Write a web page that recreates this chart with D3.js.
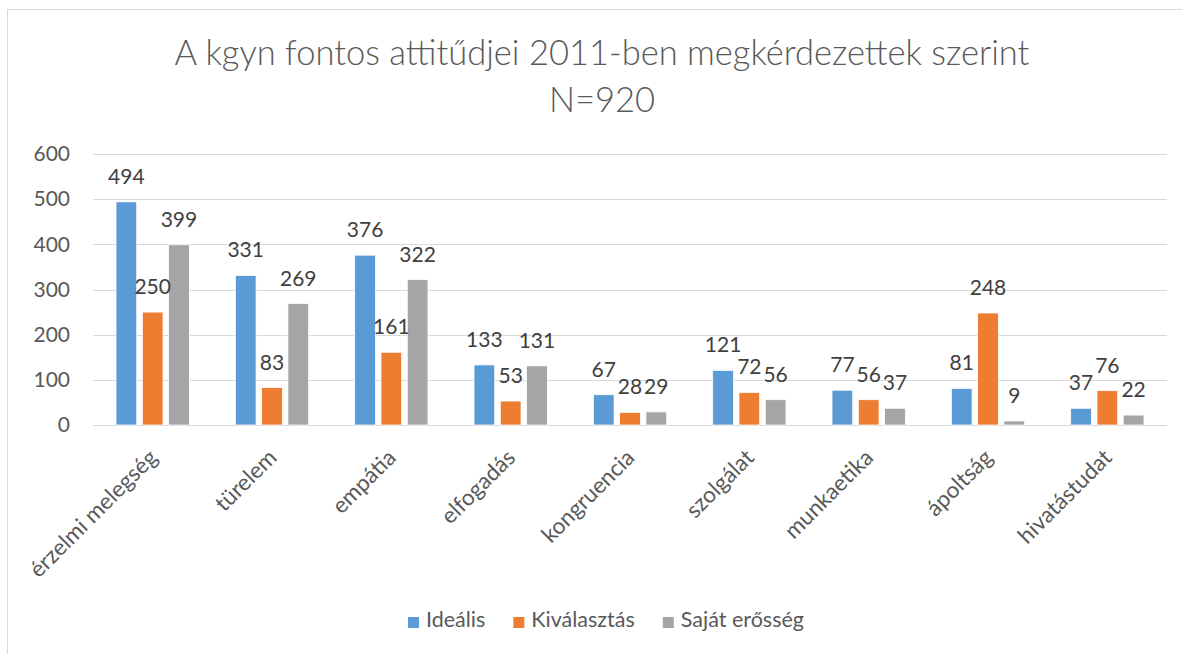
<!DOCTYPE html>
<html>
<head>
<meta charset="utf-8">
<script src="https://cdn.jsdelivr.net/npm/d3@7"></script>
<style>
  html, body { margin: 0; padding: 0; background: #fff; }
  svg { display: block; font-family: Lato, "Open Sans", sans-serif; }
</style>
</head>
<body>
<div id="chart"></div>
<script>
// adatok
const categories = ["érzelmi melegség", "türelem", "empátia", "elfogadás", "kongruencia",
  "szolgálat", "munkaetika", "ápoltság", "hivatástudat"];
const seriesNames = ["Ideális", "Kiválasztás", "Saját erősség"];
const idealis = [494, 331, 376, 133, 67, 121, 77, 81, 37];
const kivalasztas = [250, 83, 161, 53, 28, 72, 56, 248, 76];
const sajatErosseg = [399, 269, 322, 131, 29, 56, 37, 9, 22];
const yTicks = [0, 100, 200, 300, 400, 500, 600];
const titleLines = ["A kgyn fontos attitűdjei 2011-ben megkérdezettek szerint", "N=920"];

const colors = ["#5B9BD5", "#ED7D31", "#A5A5A5"];
const seriesValues = [idealis, kivalasztas, sajatErosseg];

const width = 1182, height = 654;
const plot = { left: 93, right: 1167, top: 154, bottom: 425 };

const svg = d3.select("#chart").append("svg")
  .attr("width", width)
  .attr("height", height);

// keret
svg.append("rect")
  .attr("x", 7.5).attr("y", 9.5)
  .attr("width", width + 20).attr("height", height + 20)
  .attr("fill", "#fff")
  .attr("stroke", "#D9D9D9")
  .attr("stroke-width", 1);

// cím
const title = svg.append("g");
title.append("text")
  .attr("x", 602).attr("y", 65)
  .attr("text-anchor", "middle")
  .attr("font-size", 34.5).attr("font-weight", 300)
  .attr("fill", "#595959")
  .text(titleLines[0]);
title.append("text")
  .attr("x", 602).attr("y", 112)
  .attr("text-anchor", "middle")
  .attr("font-size", 34.5).attr("font-weight", 300)
  .attr("fill", "#595959")
  .text(titleLines[1]);

// skálák
const x0 = d3.scaleBand()
  .domain(categories)
  .range([plot.left, plot.right])
  .paddingInner(0.386)
  .paddingOuter(0.193);

const x1 = d3.scaleBand()
  .domain(seriesNames)
  .range([0, x0.bandwidth()])
  .paddingInner(0.213);

const y = d3.scaleLinear()
  .domain([0, 600])
  .range([plot.bottom, plot.top]);

// rácsvonalak
svg.append("g")
  .selectAll("line")
  .data(yTicks)
  .enter().append("line")
  .attr("x1", plot.left).attr("x2", plot.right)
  .attr("y1", d => Math.round(y(d)) + 0.5)
  .attr("y2", d => Math.round(y(d)) + 0.5)
  .attr("stroke", "#D9D9D9")
  .attr("stroke-width", 1);

// Y tengely
const yAxis = svg.append("g")
  .attr("transform", `translate(${plot.left},0)`)
  .call(d3.axisLeft(y).tickValues(yTicks).tickSize(0).tickPadding(23));
yAxis.select(".domain").remove();
yAxis.selectAll("text")
  .attr("font-size", 21)
  .attr("font-family", "Lato, sans-serif")
  .attr("fill", "#595959");

// oszlopok
const rows = categories.map((c, i) => ({
  cat: c,
  vals: seriesNames.map((s, j) => ({ series: s, idx: j, value: seriesValues[j][i] }))
}));

const groups = svg.append("g")
  .selectAll("g")
  .data(rows)
  .enter().append("g")
  .attr("transform", d => `translate(${x0(d.cat)},0)`);

groups.selectAll("rect")
  .data(d => d.vals)
  .enter().append("rect")
  .attr("x", d => x1(d.series))
  .attr("y", d => y(d.value))
  .attr("width", x1.bandwidth())
  .attr("height", d => y(0) - y(d.value))
  .attr("fill", d => colors[d.idx])
  .attr("stroke", "#fff")
  .attr("stroke-width", 0.75);

// adatcímkék
groups.selectAll("text.label")
  .data(d => d.vals)
  .enter().append("text")
  .attr("class", "label")
  .attr("x", d => x1(d.series) + x1.bandwidth() / 2)
  .attr("y", d => y(d.value) - 18)
  .attr("text-anchor", "middle")
  .attr("font-size", 21)
  .attr("fill", "#404040")
  .text(d => d.value);

// X tengely feliratok
svg.append("g")
  .selectAll("text")
  .data(categories)
  .enter().append("text")
  .attr("transform", d => `translate(${x0(d) + x0.bandwidth() / 2 + 6},${plot.bottom + 34}) rotate(-45)`)
  .attr("text-anchor", "end")
  .attr("font-size", 22.5)
  .attr("fill", "#595959")
  .text(d => d);

// jelmagyarázat
const legend = svg.append("g");
const items = legend.selectAll("g")
  .data(seriesNames)
  .enter().append("g");
items.append("rect")
  .attr("width", 11).attr("height", 11)
  .attr("y", 617)
  .attr("fill", (d, i) => colors[i]);
items.append("text")
  .attr("x", 18).attr("y", 627)
  .attr("font-size", 21.5)
  .attr("fill", "#595959")
  .text(d => d);

let offset = 0;
const positions = [];
items.each(function () {
  const w = d3.select(this).select("text").node().getComputedTextLength();
  positions.push(offset);
  offset += 18 + w + 28;
});
const total = offset - 28;
const startX = 606 - total / 2;
items.attr("transform", (d, i) => `translate(${startX + positions[i]},0)`);
</script>
</body>
</html>
